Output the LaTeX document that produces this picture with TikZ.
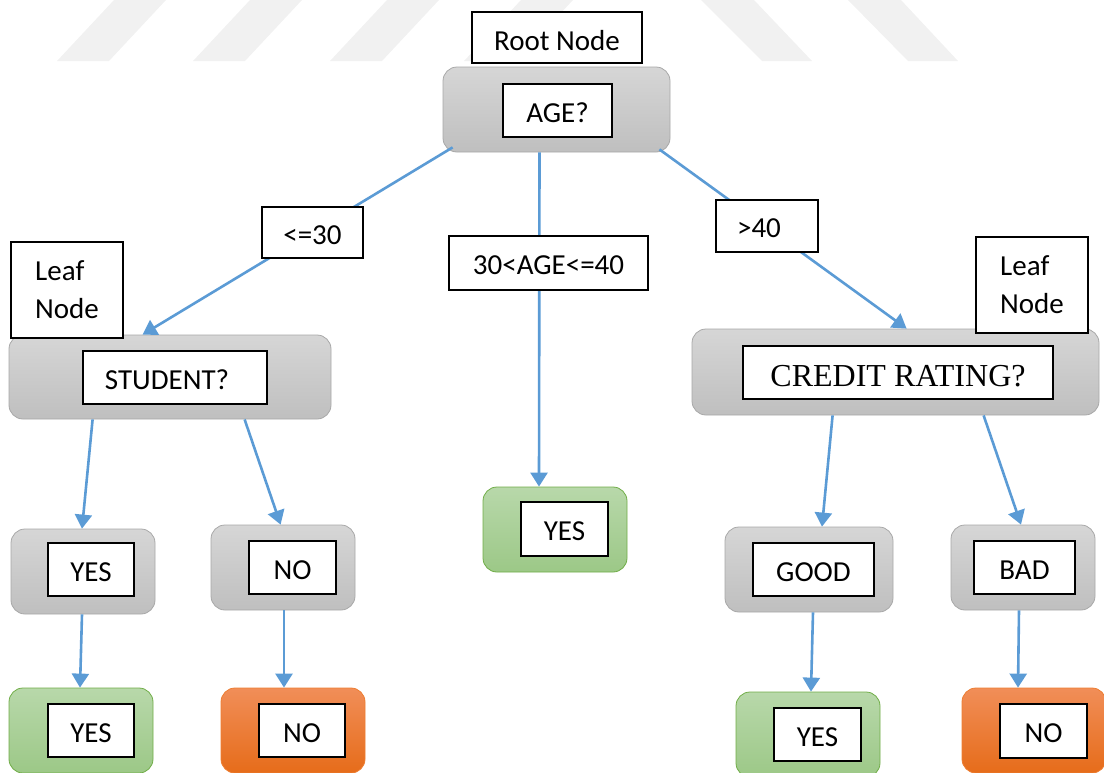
\documentclass[tikz,border=0pt]{standalone}
\usepackage{fontspec}
\setmainfont{Carlito}
\newfontfamily\serifrm{Liberation Serif}
\usetikzlibrary{arrows.meta}

\definecolor{arrowblue}{RGB}{91,155,213}
\definecolor{stripe}{RGB}{241,241,241}
\definecolor{grayhi}{RGB}{214,214,214}
\definecolor{graylo}{RGB}{191,191,191}
\definecolor{grayedge}{RGB}{168,168,168}
\definecolor{greenhi}{RGB}{184,216,170}
\definecolor{greenlo}{RGB}{156,200,135}
\definecolor{greenedge}{RGB}{112,173,71}
\definecolor{orangehi}{RGB}{241,142,88}
\definecolor{orangelo}{RGB}{230,108,26}
\definecolor{orangeedge}{RGB}{237,125,49}

\tikzset{
  sz/.style 2 args={minimum width=#1pt, minimum height=#2pt},
  panel/.style={rounded corners=14pt, line width=0.8pt, inner sep=0pt},
  graybox/.style={panel, draw=grayedge, top color=grayhi, bottom color=graylo},
  greenbox/.style={panel, draw=greenedge, top color=greenhi, bottom color=greenlo},
  orangebox/.style={panel, draw=orangeedge, top color=orangehi, bottom color=orangelo},
  framed/.style={draw=black, line width=1.4pt, fill=white, inner sep=0pt,
    font=\fontsize{29}{38}\selectfont},
  txtbox/.style={framed, text height=23.7pt, text depth=0pt},
  tagbox/.style={framed, align=left},
  conn/.style={draw=arrowblue, line width=2.6pt,
    -{Triangle[width=17pt,length=14pt]}}
}

\begin{document}
\begin{tikzpicture}[x=1pt,y=-1pt]
\useasboundingbox (0,0) rectangle (1104,772);
\clip (0,0) rectangle (1104,772);

% faint diagonal band along the top edge
\foreach \a/\b in {57/114, 193/250, 330/387, 464/521}
  \fill[stripe] (\a,61) -- (\a+52,61) -- (\b+52,0) -- (\b,0) -- cycle;
\foreach \a/\b in {701/762, 848/908}
  \fill[stripe] (\a,0) -- (\a+53,0) -- (\b+50,61) -- (\b,61) -- cycle;

% decision and outcome panels
\node[graybox, sz={227}{85}] (age) at (556.5,109.5) {};
\node[graybox, sz={322}{84}] (student) at (170,377) {};
\node[graybox, sz={407}{86}] (credit) at (895.5,372) {};
\node[graybox, sz={144}{85}] (yesG) at (83,571.5) {};
\node[graybox, sz={144}{85}] (noG) at (283,567.5) {};
\node[greenbox, sz={144}{85}] (midYes) at (555,529.5) {};
\node[graybox, sz={168}{85}] (good) at (809,569.5) {};
\node[graybox, sz={144}{85}] (bad) at (1023,567.5) {};
\node[greenbox, sz={144}{85}] (yesL) at (81,730.5) {};
\node[orangebox, sz={144}{85}] (noL) at (293,730.5) {};
\node[greenbox, sz={144}{85}] (yesR) at (808,734.5) {};
\node[orangebox, sz={144}{85}] (noR) at (1034,730.5) {};

% branches
\draw[conn] ([xshift=10pt,yshift=5pt]age.south west) -- ([xshift=134pt]student.north west);
\draw[conn] ([xshift=-17pt]age.south) -- ([xshift=-16pt]midYes.north);
\draw[conn] ([xshift=-11pt,yshift=3pt]age.south east) -- ([xshift=215pt]credit.north west);
\draw[conn] ([xshift=84pt]student.south west) -- ([xshift=-1pt]yesG.north);
\draw[conn] ([xshift=236pt]student.south west) -- ([xshift=70pt]noG.north west);
\draw[conn] ([xshift=-1pt]yesG.south) -- ([xshift=-1pt]yesL.north);
\draw[conn] ([xshift=1pt]noG.south) -- ([xshift=-9pt]noL.north);
\draw[conn] ([xshift=141pt]credit.south west) -- ([xshift=13pt]good.north);
\draw[conn] ([xshift=292pt]credit.south west) -- ([xshift=-2pt]bad.north);
\draw[conn] ([xshift=4pt]good.south) -- ([xshift=3pt]yesR.north);
\draw[conn] ([xshift=-4pt]bad.south) -- ([xshift=-16pt]noR.north);

% captions on the branches and node tags
\node[txtbox, sz={170}{51}, text height=26pt] (root) at (557,37.5) {Root Node};
\node[txtbox, sz={101}{51}] (le30) at (312.5,232.5) {<=30};
\node[txtbox, sz={199}{54}] (mid) at (548.5,263) {30<AGE<=40};
\node[txtbox, sz={102}{52}] (gt40) at (767,226) {>40\kern16pt};
\node[tagbox, sz={112}{96}] (leafL) at (67,290) {Leaf\\Node};
\node[tagbox, sz={112}{96}] (leafR) at (1032,285) {Leaf\\Node};

% questions and answers inside the panels
\node[txtbox, sz={109}{53}] (ageq) at (557.5,110.5) {AGE?};
\node[txtbox, sz={184}{53}] (studentq) at (175,377.5) {STUDENT?\kern16pt};
\node[txtbox, sz={310}{53}, text height=27.2pt,
  font=\serifrm\fontsize{32}{38}\selectfont] (creditq) at (898,372.5) {CREDIT RATING?};
\node[txtbox, sz={86}{53}] (yesGq) at (91,569.5) {YES};
\node[txtbox, sz={87}{53}] (noGq) at (292.5,567.5) {NO};
\node[txtbox, sz={87}{54}] (midYesq) at (564.5,529) {YES};
\node[txtbox, sz={121}{53}] (goodq) at (813.5,569.5) {GOOD};
\node[txtbox, sz={101}{53}] (badq) at (1024.5,567.5) {BAD};
\node[txtbox, sz={86}{53}] (yesLq) at (91,730.5) {YES};
\node[txtbox, sz={86}{53}] (noLq) at (302,730.5) {NO};
\node[txtbox, sz={87}{53}] (yesRq) at (817.5,734.5) {YES};
\node[txtbox, sz={87}{54}] (noRq) at (1043.5,731) {NO};
\end{tikzpicture}
\end{document}
